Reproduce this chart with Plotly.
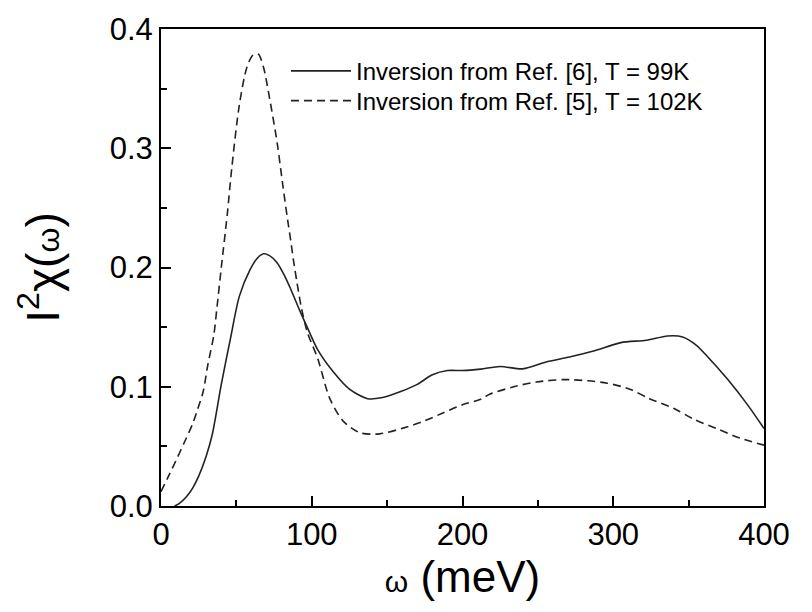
import plotly.graph_objects as go

# Eliashberg-type spectral function I^2 chi(omega), two inversions
omega_99k = [9, 12, 17, 21, 25, 30, 34, 40, 46, 52, 59, 64, 68, 72, 77, 82, 86, 92, 98,
             104, 114, 125, 137, 147, 159, 170, 180, 190, 200, 212, 225, 240, 256, 271, 287,
             305, 322, 336, 346, 355, 362, 376, 389, 400]
chi_99k = [0.0, 0.002, 0.008, 0.015, 0.025, 0.042, 0.060, 0.102, 0.140, 0.176, 0.198, 0.208,
           0.2115, 0.210, 0.204, 0.193, 0.182, 0.164, 0.147, 0.131, 0.113, 0.098, 0.090,
           0.091, 0.096, 0.102, 0.110, 0.1136, 0.1136, 0.1148, 0.117, 0.115, 0.121, 0.125,
           0.130, 0.137, 0.139, 0.1426, 0.1418, 0.135, 0.126, 0.106, 0.085, 0.065]

omega_102k = [0, 5, 11, 15, 21, 24, 28, 31, 35, 37, 40, 44, 47, 52, 57, 61, 64.5, 68, 70,
              77, 81, 84, 86, 88, 90, 93, 97, 104, 112, 121, 132, 145, 161, 174, 187, 200,
              212, 218, 234, 249, 267, 283, 296, 311, 324, 340, 353, 369, 384, 400]
chi_102k = [0.012, 0.025, 0.041, 0.052, 0.069, 0.080, 0.096, 0.118, 0.143, 0.165, 0.200,
            0.245, 0.284, 0.3366, 0.368, 0.378, 0.379, 0.368, 0.356, 0.305, 0.267, 0.240,
            0.223, 0.205, 0.189, 0.167, 0.146, 0.1235, 0.090, 0.071, 0.0614, 0.0605, 0.0655,
            0.071, 0.078, 0.085, 0.0895, 0.0937, 0.100, 0.104, 0.106, 0.105, 0.103, 0.098,
            0.090, 0.082, 0.073, 0.0647, 0.057, 0.051]

x_ticks = [0, 100, 200, 300, 400]
y_ticks = [0.0, 0.1, 0.2, 0.3, 0.4]

FONT = "Arial, Liberation Sans, Helvetica, sans-serif"

fig = go.Figure()
fig.add_trace(go.Scatter(
    x=omega_99k, y=chi_99k, mode="lines",
    line=dict(color="#222222", width=1.6, shape="spline", smoothing=0.8),
    name="Inversion from Ref. [6], T = 99K", legend="legend",
))
fig.add_trace(go.Scatter(
    x=omega_102k, y=chi_102k, mode="lines",
    line=dict(color="#222222", width=1.6, dash="8px,5px", shape="spline", smoothing=0.8),
    name="Inversion from Ref. [5], T = 102K", legend="legend2",
))

axis_common = dict(
    showline=True, linecolor="black", linewidth=2, mirror=True,
    ticks="inside", ticklen=10, tickwidth=2, tickcolor="black",
    showgrid=False, zeroline=False,
    tickfont=dict(family=FONT, size=31, color="black"),
)

fig.update_xaxes(
    range=[0, 400], tickvals=x_ticks, ticktext=[str(v) for v in x_ticks],
    minor=dict(dtick=50, ticks="inside", ticklen=6, tickwidth=2, tickcolor="black"),
    title=dict(text="<span style='font-size:30px'>ω</span> (meV)",
               font=dict(family=FONT, size=44, color="black"), standoff=6),
    **axis_common,
)
fig.update_yaxes(
    range=[0, 0.4], tickvals=y_ticks, ticktext=[f"{v:.1f}" for v in y_ticks],
    minor=dict(dtick=0.05, ticks="inside", ticklen=6, tickwidth=2, tickcolor="black"),
    title=dict(text="I<sup>2</sup>χ(<span style='font-size:32px'>ω</span>)",
               font=dict(family=FONT, size=46, color="black"), standoff=36),
    **axis_common,
)

legend_style = dict(
    xanchor="left", yanchor="top",
    bgcolor="rgba(0,0,0,0)", borderwidth=0,
    font=dict(family=FONT, size=24, color="black"),
    itemwidth=60,
)
fig.update_layout(
    width=812, height=612,
    margin=dict(l=161, r=48, t=24, b=106),
    plot_bgcolor="white", paper_bgcolor="white",
    showlegend=True,
    legend=dict(x=(286 - 161) / 603, y=(506 - 44) / 482, **legend_style),
    legend2=dict(x=(286 - 161) / 603, y=(506 - 74) / 482, **legend_style),
)

fig.write_html("out.html")
